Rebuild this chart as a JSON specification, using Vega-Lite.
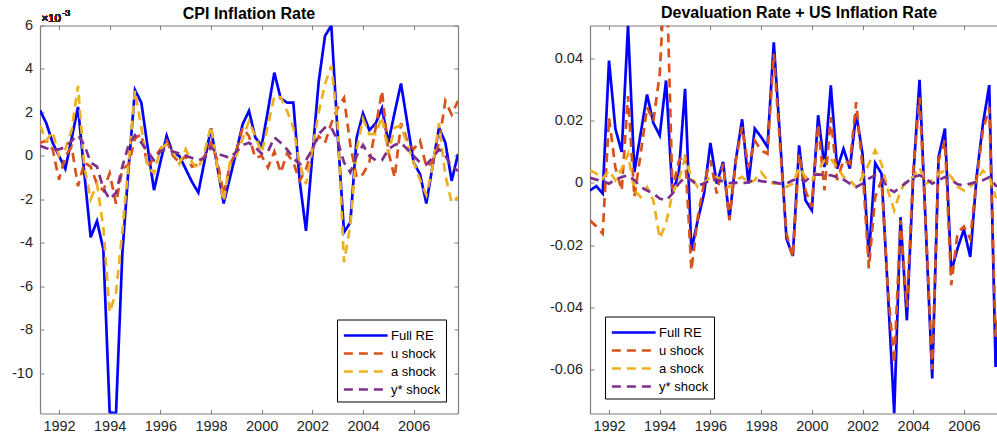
{
  "$schema": "https://vega.github.io/schema/vega-lite/v6.json",
  "padding": {"left": 11, "top": 4.5, "right": 0, "bottom": 0},
  "bounds": "flush",
  "spacing": 132,
  "config": {
    "font": "Liberation Sans",
    "view": {"stroke": null},
    "axis": {"labelFont": "Liberation Sans", "labelFontSize": 14.5, "labelColor": "#262626", "domainColor": "#7d7d7d", "tickColor": "#7d7d7d", "domainWidth": 1.2, "tickWidth": 1, "tickSize": -4, "labelPadding": 11.5, "grid": false, "title": null, "labelFlush": false},
    "title": {"font": "Liberation Sans", "fontSize": 16, "fontWeight": "bold", "color": "#000000", "anchor": "middle", "frame": "group", "baseline": "alphabetic"},
    "legend": {"title": null, "fillColor": "#ffffff", "strokeColor": "#000000", "padding": 5, "symbolType": "M-1,0H3.78", "symbolSize": 335, "symbolStrokeWidth": 2.7, "labelFontSize": 13, "labelFont": "Liberation Sans", "labelColor": "#000000", "labelOffset": 27, "rowPadding": 0},
    "line": {"strokeWidth": 2.7, "clip": true}
  },
  "resolve": {"scale": {"x": "independent", "y": "independent", "color": "independent", "strokeDash": "independent"}, "legend": {"color": "independent", "strokeDash": "independent"}},
  "datasets": {
    "cpi": [
      {"t":1991.25,"full":0.0021,"u":0.0006,"a":0.0014,"ys":0.00046},
      {"t":1991.5,"full":0.0015,"u":0.0007,"a":0.0007,"ys":0.00035},
      {"t":1991.75,"full":0.0006,"u":0.0003,"a":0.0011,"ys":0.0003},
      {"t":1992,"full":0.0,"u":-0.0011,"a":0.0,"ys":0.0003},
      {"t":1992.25,"full":-0.0006,"u":0.0,"a":0.0003,"ys":0.0004},
      {"t":1992.5,"full":0.0008,"u":0.0004,"a":0.0012,"ys":0.0007},
      {"t":1992.75,"full":0.00225,"u":-0.0014,"a":0.00322,"ys":0.00095},
      {"t":1993,"full":-0.0008,"u":-0.0003,"a":-0.0005,"ys":0.0005},
      {"t":1993.25,"full":-0.00375,"u":-0.0005,"a":-0.002,"ys":-0.0003},
      {"t":1993.5,"full":-0.003,"u":-0.0013,"a":-0.0013,"ys":-0.0005},
      {"t":1993.75,"full":-0.0043,"u":-0.0016,"a":-0.0033,"ys":-0.0015},
      {"t":1994,"full":-0.0118,"u":-0.0008,"a":-0.0072,"ys":-0.002},
      {"t":1994.25,"full":-0.01186,"u":-0.0022,"a":-0.0063,"ys":-0.0017},
      {"t":1994.5,"full":-0.0045,"u":-0.0006,"a":-0.0035,"ys":-0.0005},
      {"t":1994.75,"full":-0.0005,"u":-0.0004,"a":-0.0003,"ys":0.0005},
      {"t":1995,"full":0.00303,"u":0.0008,"a":0.003,"ys":0.00095},
      {"t":1995.25,"full":0.00245,"u":0.001,"a":0.0013,"ys":0.0006},
      {"t":1995.5,"full":0.0004,"u":-0.0005,"a":-0.0005,"ys":0.0002},
      {"t":1995.75,"full":-0.00158,"u":-0.0001,"a":-0.0008,"ys":-0.0002},
      {"t":1996,"full":-0.0003,"u":0.0003,"a":0.0003,"ys":0.0002},
      {"t":1996.25,"full":0.00092,"u":0.0007,"a":0.00055,"ys":0.0003},
      {"t":1996.5,"full":0.0001,"u":0.0,"a":0.0002,"ys":0.0002},
      {"t":1996.75,"full":0.0,"u":-0.0003,"a":-0.00037,"ys":0.0001},
      {"t":1997,"full":-0.0006,"u":0.0,"a":0.0003,"ys":0.0},
      {"t":1997.25,"full":-0.0012,"u":-0.0005,"a":-0.0003,"ys":-0.0001},
      {"t":1997.5,"full":-0.00169,"u":-0.0004,"a":-0.0006,"ys":-0.0002},
      {"t":1997.75,"full":-0.0002,"u":0.0,"a":0.0002,"ys":-0.0001},
      {"t":1998,"full":0.00127,"u":0.0006,"a":0.00138,"ys":0.0004},
      {"t":1998.25,"full":-0.0005,"u":-0.0002,"a":-0.0005,"ys":0.0001},
      {"t":1998.5,"full":-0.00219,"u":-0.0018,"a":-0.0021,"ys":0.0},
      {"t":1998.75,"full":-0.001,"u":-0.0004,"a":-0.0003,"ys":-0.0001},
      {"t":1999,"full":0.0002,"u":0.0002,"a":0.0,"ys":0.0002},
      {"t":1999.25,"full":0.00146,"u":0.0013,"a":0.0008,"ys":0.0005},
      {"t":1999.5,"full":0.00207,"u":0.0009,"a":0.0016,"ys":0.0006},
      {"t":1999.75,"full":0.00084,"u":-0.0001,"a":0.0009,"ys":0.0004},
      {"t":2000,"full":0.00046,"u":0.0,"a":0.00015,"ys":0.0001},
      {"t":2000.25,"full":0.0021,"u":-0.00054,"a":0.0014,"ys":0.0002},
      {"t":2000.5,"full":0.00383,"u":0.0002,"a":0.00276,"ys":0.00085},
      {"t":2000.75,"full":0.00265,"u":-0.00077,"a":0.0027,"ys":0.0006},
      {"t":2001,"full":0.00245,"u":0.0001,"a":0.00207,"ys":0.0003},
      {"t":2001.25,"full":0.00245,"u":-0.0003,"a":0.0013,"ys":-0.0001},
      {"t":2001.5,"full":-0.00115,"u":-0.00115,"a":-0.00037,"ys":-0.0004},
      {"t":2001.75,"full":-0.00345,"u":-0.0006,"a":-0.0013,"ys":-0.0002},
      {"t":2002,"full":0.0,"u":0.0003,"a":0.0003,"ys":0.0003},
      {"t":2002.25,"full":0.0034,"u":0.0009,"a":0.002,"ys":0.001},
      {"t":2002.5,"full":0.00552,"u":0.0006,"a":0.0033,"ys":0.0013},
      {"t":2002.75,"full":0.006,"u":0.0015,"a":0.00414,"ys":0.0013},
      {"t":2003,"full":0.001,"u":0.0022,"a":0.0015,"ys":0.0007},
      {"t":2003.25,"full":-0.00352,"u":0.00267,"a":-0.0049,"ys":-0.0003},
      {"t":2003.5,"full":-0.00306,"u":0.0005,"a":-0.0032,"ys":-0.00077},
      {"t":2003.75,"full":0.00084,"u":-0.001,"a":0.0003,"ys":0.0},
      {"t":2004,"full":0.00195,"u":-0.00084,"a":0.0017,"ys":0.0005},
      {"t":2004.25,"full":0.00118,"u":-0.0003,"a":0.001,"ys":0.0},
      {"t":2004.5,"full":0.0015,"u":0.0013,"a":0.001,"ys":-0.0002},
      {"t":2004.75,"full":0.00219,"u":0.00299,"a":0.0018,"ys":-0.0002},
      {"t":2005,"full":0.00061,"u":0.0002,"a":0.0001,"ys":0.0003},
      {"t":2005.25,"full":0.002,"u":-0.001,"a":0.0013,"ys":0.0005},
      {"t":2005.5,"full":0.00333,"u":0.0015,"a":0.0014,"ys":0.0006},
      {"t":2005.75,"full":0.0015,"u":0.0007,"a":0.0005,"ys":0.0003},
      {"t":2006,"full":-0.00031,"u":0.0003,"a":-0.0003,"ys":0.0},
      {"t":2006.25,"full":-0.00084,"u":0.0007,"a":-0.0011,"ys":-0.0003},
      {"t":2006.5,"full":-0.00219,"u":-0.0005,"a":-0.0018,"ys":-0.0004},
      {"t":2006.75,"full":-0.00045,"u":-0.0003,"a":-0.0005,"ys":-0.0001},
      {"t":2007,"full":0.0013,"u":0.0006,"a":0.0015,"ys":0.0003},
      {"t":2007.25,"full":0.00061,"u":0.00253,"a":-0.0009,"ys":0.0},
      {"t":2007.5,"full":-0.00115,"u":0.0019,"a":-0.00215,"ys":-0.0005},
      {"t":2007.75,"full":0.00008,"u":0.00253,"a":-0.0019,"ys":-0.00069}
    ],
    "dev": [
      {"t":1991.25,"full":-0.0024,"u":-0.012,"a":0.0041,"ys":0.0017},
      {"t":1991.5,"full":-0.001,"u":-0.014,"a":0.003,"ys":0.0011},
      {"t":1991.75,"full":-0.0034,"u":-0.0163,"a":0.0014,"ys":0.0006},
      {"t":1992,"full":0.0394,"u":0.021,"a":0.004,"ys":-0.0002},
      {"t":1992.25,"full":0.0175,"u":0.005,"a":0.0009,"ys":0.0011},
      {"t":1992.5,"full":0.010,"u":-0.0024,"a":0.0046,"ys":0.0019},
      {"t":1992.75,"full":0.0507,"u":0.028,"a":0.0094,"ys":0.0025},
      {"t":1993,"full":0.0035,"u":-0.0045,"a":-0.0024,"ys":0.0009},
      {"t":1993.25,"full":0.016,"u":0.0094,"a":-0.0045,"ys":-0.0013},
      {"t":1993.5,"full":0.0285,"u":0.0244,"a":-0.0013,"ys":-0.0024},
      {"t":1993.75,"full":0.0193,"u":0.02,"a":-0.0056,"ys":-0.0034},
      {"t":1994,"full":0.0153,"u":0.035,"a":-0.0178,"ys":-0.005},
      {"t":1994.25,"full":0.033,"u":0.075,"a":-0.013,"ys":-0.0056},
      {"t":1994.5,"full":-0.0034,"u":-0.002,"a":-0.0034,"ys":-0.0034},
      {"t":1994.75,"full":0.003,"u":0.007,"a":0.001,"ys":-0.0002},
      {"t":1995,"full":0.0303,"u":0.0094,"a":0.008,"ys":0.0019},
      {"t":1995.25,"full":-0.0217,"u":-0.0281,"a":0.0019,"ys":0.0009},
      {"t":1995.5,"full":-0.012,"u":-0.011,"a":-0.0013,"ys":-0.0008},
      {"t":1995.75,"full":-0.0034,"u":0.0,"a":0.0,"ys":-0.0002},
      {"t":1996,"full":0.0129,"u":0.0073,"a":0.002,"ys":0.0009},
      {"t":1996.25,"full":-0.0002,"u":-0.0034,"a":0.002,"ys":0.0009},
      {"t":1996.5,"full":0.0068,"u":0.0062,"a":0.0,"ys":0.0006},
      {"t":1996.75,"full":-0.0115,"u":-0.012,"a":-0.0013,"ys":0.0},
      {"t":1997,"full":0.0073,"u":0.0073,"a":0.0009,"ys":0.0001},
      {"t":1997.25,"full":0.0205,"u":0.018,"a":0.002,"ys":-0.0002},
      {"t":1997.5,"full":-0.0002,"u":0.005,"a":0.0,"ys":0.0003},
      {"t":1997.75,"full":0.0175,"u":0.0137,"a":0.0009,"ys":0.0011},
      {"t":1998,"full":0.0148,"u":0.0105,"a":0.0035,"ys":0.0006},
      {"t":1998.25,"full":0.0116,"u":0.0094,"a":0.0009,"ys":0.0003},
      {"t":1998.5,"full":0.0453,"u":0.0416,"a":-0.0002,"ys":0.0003},
      {"t":1998.75,"full":0.014,"u":0.0116,"a":-0.0002,"ys":-0.0002},
      {"t":1999,"full":-0.0179,"u":-0.0163,"a":-0.0013,"ys":-0.0002},
      {"t":1999.25,"full":-0.0235,"u":-0.024,"a":-0.0002,"ys":0.0009},
      {"t":1999.5,"full":0.0121,"u":0.0094,"a":0.005,"ys":0.0014},
      {"t":1999.75,"full":-0.0056,"u":-0.0024,"a":0.002,"ys":0.0006},
      {"t":2000,"full":-0.0088,"u":-0.0077,"a":0.0009,"ys":0.0025},
      {"t":2000.25,"full":0.0218,"u":0.019,"a":0.004,"ys":0.0028},
      {"t":2000.5,"full":0.0051,"u":-0.0024,"a":0.0073,"ys":0.0025},
      {"t":2000.75,"full":0.0314,"u":0.0212,"a":0.0078,"ys":0.0025},
      {"t":2001,"full":0.0046,"u":0.0009,"a":0.005,"ys":0.0019},
      {"t":2001.25,"full":0.011,"u":0.0073,"a":0.002,"ys":0.0011},
      {"t":2001.5,"full":0.0046,"u":0.0062,"a":0.0009,"ys":-0.0002},
      {"t":2001.75,"full":0.0223,"u":0.026,"a":-0.0013,"ys":-0.0013},
      {"t":2002,"full":0.0094,"u":0.005,"a":0.002,"ys":-0.0002},
      {"t":2002.25,"full":-0.0238,"u":-0.0275,"a":0.0062,"ys":0.0014},
      {"t":2002.5,"full":0.0064,"u":-0.0045,"a":0.0105,"ys":0.0025},
      {"t":2002.75,"full":0.003,"u":0.0009,"a":0.0062,"ys":0.0019},
      {"t":2003,"full":-0.035,"u":-0.034,"a":-0.0024,"ys":-0.0018},
      {"t":2003.25,"full":-0.0742,"u":-0.058,"a":-0.0088,"ys":-0.0029},
      {"t":2003.5,"full":-0.011,"u":-0.012,"a":-0.0024,"ys":-0.0013},
      {"t":2003.75,"full":-0.0442,"u":-0.04,"a":0.0009,"ys":0.0003},
      {"t":2004,"full":0.0019,"u":0.004,"a":0.002,"ys":0.0019},
      {"t":2004.25,"full":0.0332,"u":0.0275,"a":0.005,"ys":0.0025},
      {"t":2004.5,"full":-0.015,"u":-0.014,"a":-0.0002,"ys":0.0014},
      {"t":2004.75,"full":-0.0629,"u":-0.06,"a":0.0009,"ys":-0.0002},
      {"t":2005,"full":0.0084,"u":0.0073,"a":0.003,"ys":0.0009},
      {"t":2005.25,"full":0.0175,"u":0.0137,"a":0.004,"ys":0.0019},
      {"t":2005.5,"full":-0.0286,"u":-0.0329,"a":0.002,"ys":0.0009},
      {"t":2005.75,"full":-0.021,"u":-0.016,"a":-0.0013,"ys":-0.0004},
      {"t":2006,"full":-0.015,"u":-0.014,"a":-0.0024,"ys":-0.0008},
      {"t":2006.25,"full":-0.0238,"u":-0.018,"a":-0.0013,"ys":-0.0002},
      {"t":2006.5,"full":0.002,"u":0.001,"a":0.0009,"ys":0.0003},
      {"t":2006.75,"full":0.019,"u":0.017,"a":0.004,"ys":0.0009},
      {"t":2007,"full":0.0315,"u":0.0244,"a":0.002,"ys":0.0019},
      {"t":2007.25,"full":-0.0592,"u":-0.0495,"a":-0.0045,"ys":-0.0008},
      {"t":2007.5,"full":-0.03,"u":-0.03,"a":-0.005,"ys":-0.0015},
      {"t":2007.75,"full":-0.01,"u":-0.01,"a":-0.003,"ys":-0.002}
    ]
  },
  "hconcat": [
    {
      "width": 418,
      "height": 388,
      "title": {"text": "CPI Inflation Rate", "offset": -13.3},
      "data": {"name": "cpi"},
      "transform": [{"fold": ["full", "u", "a", "ys"], "as": ["series", "v"]}],
      "resolve": {"axis": {"x": "independent", "y": "independent"}},
      "layer": [
        {
          "mark": {"type": "line", "clip": true},
          "encoding": {
            "x": {"field": "t", "type": "quantitative", "scale": {"domain": [1991.25, 2007.75], "nice": false, "zero": false}, "axis": {"orient": "bottom", "values": [1992, 1994, 1996, 1998, 2000, 2002, 2004, 2006], "labelExpr": "'' + datum.value", "labelPadding": 10}},
            "y": {"field": "v", "type": "quantitative", "scale": {"domain": [-0.01186, 0.006], "nice": false, "zero": false}, "axis": {"orient": "left", "values": [-0.01, -0.008, -0.006, -0.004, -0.002, 0, 0.002, 0.004, 0.006], "labelExpr": "'' + round(datum.value * 1000)"}},
            "color": {"field": "series", "type": "nominal", "scale": {"domain": ["full", "u", "a", "ys"], "range": ["#0000ff", "#d95319", "#edb120", "#7e2f8e"]}, "legend": {"orient": "bottom-right", "offset": 12.5, "labelExpr": "datum.label == 'full' ? 'Full RE' : datum.label == 'u' ? 'u shock' : datum.label == 'a' ? 'a shock' : 'y* shock'"}},
            "strokeDash": {"field": "series", "type": "nominal", "scale": {"domain": ["full", "u", "a", "ys"], "range": [[1, 0], [9, 6], [9, 6], [9, 6]]}, "legend": {"orient": "bottom-right", "offset": 12.5, "labelExpr": "datum.label == 'full' ? 'Full RE' : datum.label == 'u' ? 'u shock' : datum.label == 'a' ? 'a shock' : 'y* shock'"}}
          }
        },
        {
          "mark": {"type": "text", "text": "×10", "align": "left", "baseline": "alphabetic", "dx": 1.5, "dy": -3.5, "fontSize": 11.5, "color": "#262626", "font": "Liberation Sans"},
          "encoding": {
            "x": {"datum": 1991.25, "type": "quantitative", "scale": {"domain": [1991.25, 2007.75], "nice": false, "zero": false}, "axis": null},
            "y": {"datum": 0.006, "type": "quantitative", "scale": {"domain": [-0.01186, 0.006], "nice": false, "zero": false}, "axis": null}
          }
        },
        {
          "mark": {"type": "text", "text": "-3", "align": "left", "baseline": "alphabetic", "dx": 22.5, "dy": -9.5, "fontSize": 8.5, "color": "#262626", "font": "Liberation Sans"},
          "encoding": {
            "x": {"datum": 1991.25, "type": "quantitative", "scale": {"domain": [1991.25, 2007.75], "nice": false, "zero": false}, "axis": null},
            "y": {"datum": 0.006, "type": "quantitative", "scale": {"domain": [-0.01186, 0.006], "nice": false, "zero": false}, "axis": null}
          }
        },
        {
          "mark": {"type": "point", "opacity": 0, "clip": true},
          "encoding": {
            "x": {"field": "t", "type": "quantitative", "scale": {"domain": [1991.25, 2007.75], "nice": false, "zero": false}, "axis": {"orient": "top", "labels": false, "values": [1992, 1994, 1996, 1998, 2000, 2002, 2004, 2006]}},
            "y": {"field": "v", "type": "quantitative", "scale": {"domain": [-0.01186, 0.006], "nice": false, "zero": false}, "axis": {"orient": "right", "labels": false, "values": [-0.01, -0.008, -0.006, -0.004, -0.002, 0, 0.002, 0.004, 0.006]}}
          }
        }
      ]
    },
    {
      "width": 407,
      "height": 388,
      "title": {"text": "Devaluation Rate + US Inflation Rate", "offset": 3.6, "dx": 5.5},
      "data": {"name": "dev"},
      "transform": [{"fold": ["full", "u", "a", "ys"], "as": ["series", "v"]}],
      "resolve": {"axis": {"x": "independent", "y": "independent"}},
      "layer": [
        {
          "mark": {"type": "line", "clip": true},
          "encoding": {
            "x": {"field": "t", "type": "quantitative", "scale": {"domain": [1991.25, 2007.305], "nice": false, "zero": false}, "axis": {"orient": "bottom", "values": [1992, 1994, 1996, 1998, 2000, 2002, 2004, 2006], "labelExpr": "'' + datum.value", "labelPadding": 10}},
            "y": {"field": "v", "type": "quantitative", "scale": {"domain": [-0.0742, 0.0507], "nice": false, "zero": false}, "axis": {"orient": "left", "values": [-0.06, -0.04, -0.02, 0, 0.02, 0.04], "labelExpr": "'' + datum.value"}},
            "color": {"field": "series", "type": "nominal", "scale": {"domain": ["full", "u", "a", "ys"], "range": ["#0000ff", "#d95319", "#edb120", "#7e2f8e"]}, "legend": {"orient": "bottom-left", "offset": 15, "labelExpr": "datum.label == 'full' ? 'Full RE' : datum.label == 'u' ? 'u shock' : datum.label == 'a' ? 'a shock' : 'y* shock'"}},
            "strokeDash": {"field": "series", "type": "nominal", "scale": {"domain": ["full", "u", "a", "ys"], "range": [[1, 0], [9, 6], [9, 6], [9, 6]]}, "legend": {"orient": "bottom-left", "offset": 15, "labelExpr": "datum.label == 'full' ? 'Full RE' : datum.label == 'u' ? 'u shock' : datum.label == 'a' ? 'a shock' : 'y* shock'"}}
          }
        },
        {
          "mark": {"type": "point", "opacity": 0, "clip": true},
          "encoding": {
            "x": {"field": "t", "type": "quantitative", "scale": {"domain": [1991.25, 2007.305], "nice": false, "zero": false}, "axis": {"orient": "top", "labels": false, "values": [1992, 1994, 1996, 1998, 2000, 2002, 2004, 2006]}},
            "y": {"field": "v", "type": "quantitative", "scale": {"domain": [-0.0742, 0.0507], "nice": false, "zero": false}, "axis": null}
          }
        }
      ]
    }
  ]
}
